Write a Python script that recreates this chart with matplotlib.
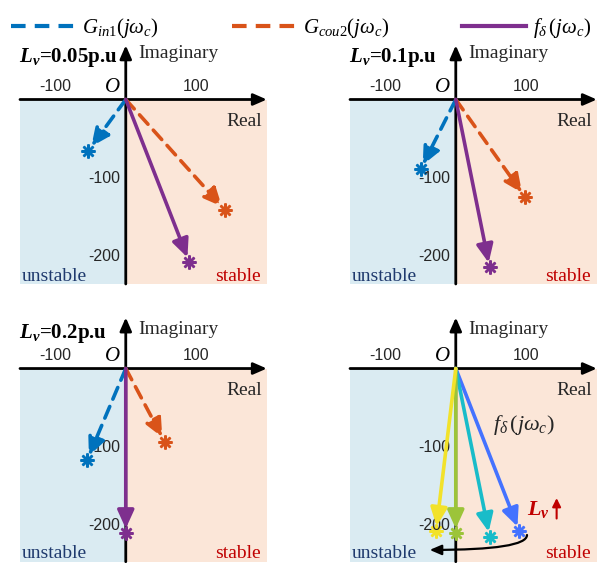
import numpy as np
import matplotlib
matplotlib.use('Agg')
import matplotlib.pyplot as plt
from matplotlib.lines import Line2D

# end points of the vectors (Real, Imaginary)
lv_labels = ['0.05', '0.1', '0.2']
gin1_re = [-53, -50, -55]
gin1_im = [-65, -89, -117]
gcou2_re = [141, 98, 55]
gcou2_im = [-141, -124, -93]
fd_re = [90, 48, 0, -28]
fd_im = [-207, -214, -210, -207]
x_ticks = [-100, 100]
y_ticks = [-100, -200]

C_IN1 = '#0072BD'
C_COU2 = '#D95319'
C_FD = '#7E2F8E'
C_SWEEP = ['#4472FF', '#19BCC9', '#9CC43A', '#F2E22A']
C_LEFT = '#DAEBF2'
C_RIGHT = '#FBE6D8'
C_TXT = '#262626'

plt.rcParams['mathtext.fontset'] = 'custom'
plt.rcParams['mathtext.rm'] = 'Liberation Serif'
plt.rcParams['mathtext.it'] = 'Liberation Serif:italic'
plt.rcParams['mathtext.bf'] = 'Liberation Serif:bold'
try:
    plt.rcParams['mathtext.bfit'] = 'Liberation Serif:italic:bold'
except KeyError:
    pass

SERIF = 'Liberation Serif'
SANS = 'Liberation Sans'


def vector(ax, x, y, color, dashed):
    ax.annotate('', xy=(x, y), xytext=(0, 0),
                arrowprops=dict(arrowstyle='-|>,head_length=1.1,head_width=0.5',
                                color=color, lw=2.6,
                                linestyle=(0, (3.5, 2.2)) if dashed else '-',
                                shrinkA=0, shrinkB=3.5))
    ax.plot(x, y, marker=(8, 2, 0), ms=10, mew=1.8, color=color)


def frame(ax, ylow, top, ytxt):
    xl, xr = -150, 200
    ax.set_xlim(xl, xr)
    ax.set_ylim(ylow, 80)
    ax.axis('off')
    ax.fill_between([xl, 0], ylow, 0, color=C_LEFT, lw=0, zorder=0)
    ax.fill_between([0, xr], ylow, 0, color=C_RIGHT, lw=0, zorder=0)
    ax.annotate('', xy=(xr, 0), xytext=(xl, 0),
                arrowprops=dict(arrowstyle='-|>,head_length=0.8,head_width=0.35',
                                color='black', lw=2, shrinkA=0, shrinkB=0), zorder=1)
    ax.annotate('', xy=(0, top), xytext=(0, ylow),
                arrowprops=dict(arrowstyle='-|>,head_length=0.8,head_width=0.35',
                                color='black', lw=2, shrinkA=0, shrinkB=0), zorder=1)
    ax.text(18, ytxt, 'Imaginary', family=SERIF, fontsize=14, color=C_TXT,
            ha='left', va='center')
    ax.text(193, -28, 'Real', family=SERIF, fontsize=14, color=C_TXT,
            ha='right', va='center')
    ax.text(-19, 15, 'O', family=SERIF, style='italic', fontsize=15,
            ha='center', va='center')
    for t in x_ticks:
        ax.text(t, 16, str(t), family=SANS, fontsize=11.5, color=C_TXT,
                ha='center', va='center')
    for t in y_ticks:
        ax.text(-8, t, str(t), family=SANS, fontsize=11.5, color=C_TXT,
                ha='right', va='center')
    ax.text(-148, ylow + 10, 'unstable', family=SERIF, fontsize=14,
            color='#1F3A6E', ha='left', va='center')
    ax.text(191, ylow + 10, 'stable', family=SERIF, fontsize=14,
            color='#C00000', ha='right', va='center')


fig = plt.figure(figsize=(6.02, 5.63), dpi=100)
W = 0.41
axes = [
    fig.add_axes([0.0332, 0.4956, W, 0.4392]),
    fig.add_axes([0.5814, 0.4956, W, 0.4392]),
    fig.add_axes([0.0332, 0.0023, W, 0.4547]),
    fig.add_axes([0.5814, 0.0023, W, 0.4547]),
]
ylows = [-235, -235, -246, -246]
tops = [69, 69, 65, 65]
ytxts = [59, 59, 50, 50]
ylvs = [53, 53, 45]

for i, ax in enumerate(axes):
    frame(ax, ylows[i], tops[i], ytxts[i])

for i in range(3):
    ax = axes[i]
    vector(ax, gin1_re[i], gin1_im[i], C_IN1, True)
    vector(ax, gcou2_re[i], gcou2_im[i], C_COU2, True)
    vector(ax, fd_re[i], fd_im[i], C_FD, False)
    ax.text(-152, ylvs[i], r'$\mathbfit{L_v}$=' + lv_labels[i] + 'p.u', family=SERIF,
            fontsize=15, fontweight='bold', ha='left', va='center')

ax = axes[3]
for k in range(len(fd_re)):
    vector(ax, fd_re[k], fd_im[k], C_SWEEP[k], False)
ax.text(96, -72, r'$f_\delta\,(j\omega_c)$', fontsize=16, color=C_TXT,
        ha='center', va='center')
ax.text(117, -180, r'$\mathbfit{L_v}$', fontsize=16, color='#C00000',
        ha='center', va='center')
ax.annotate('', xy=(143, -165), xytext=(143, -191),
            arrowprops=dict(arrowstyle='-|>,head_length=0.5,head_width=0.25',
                            color='#C00000', lw=1.5, shrinkA=0, shrinkB=0))
ax.annotate('', xy=(-37, -231), xytext=(101, -212),
            arrowprops=dict(arrowstyle='-|>,head_length=0.7,head_width=0.3',
                            color='black', lw=1.6, shrinkA=0, shrinkB=0,
                            connectionstyle='angle3,angleA=90,angleB=0'))

handles = [
    Line2D([], [], color=C_IN1, lw=3, dashes=(3.5, 2.2)),
    Line2D([], [], color=C_COU2, lw=3, dashes=(3.5, 2.2)),
    Line2D([], [], color=C_FD, lw=3),
]
labels = [r'$G_{in1}(j\omega_c)$', r'$G_{cou2}(j\omega_c)$', r'$f_\delta\,(j\omega_c)$']
fig.legend(handles, labels, loc='upper center', bbox_to_anchor=(0.5, 1.005),
           ncol=3, frameon=False, fontsize=15, handlelength=3.1,
           handletextpad=0.3, columnspacing=3.5)

fig.savefig('out.png', dpi=100)
